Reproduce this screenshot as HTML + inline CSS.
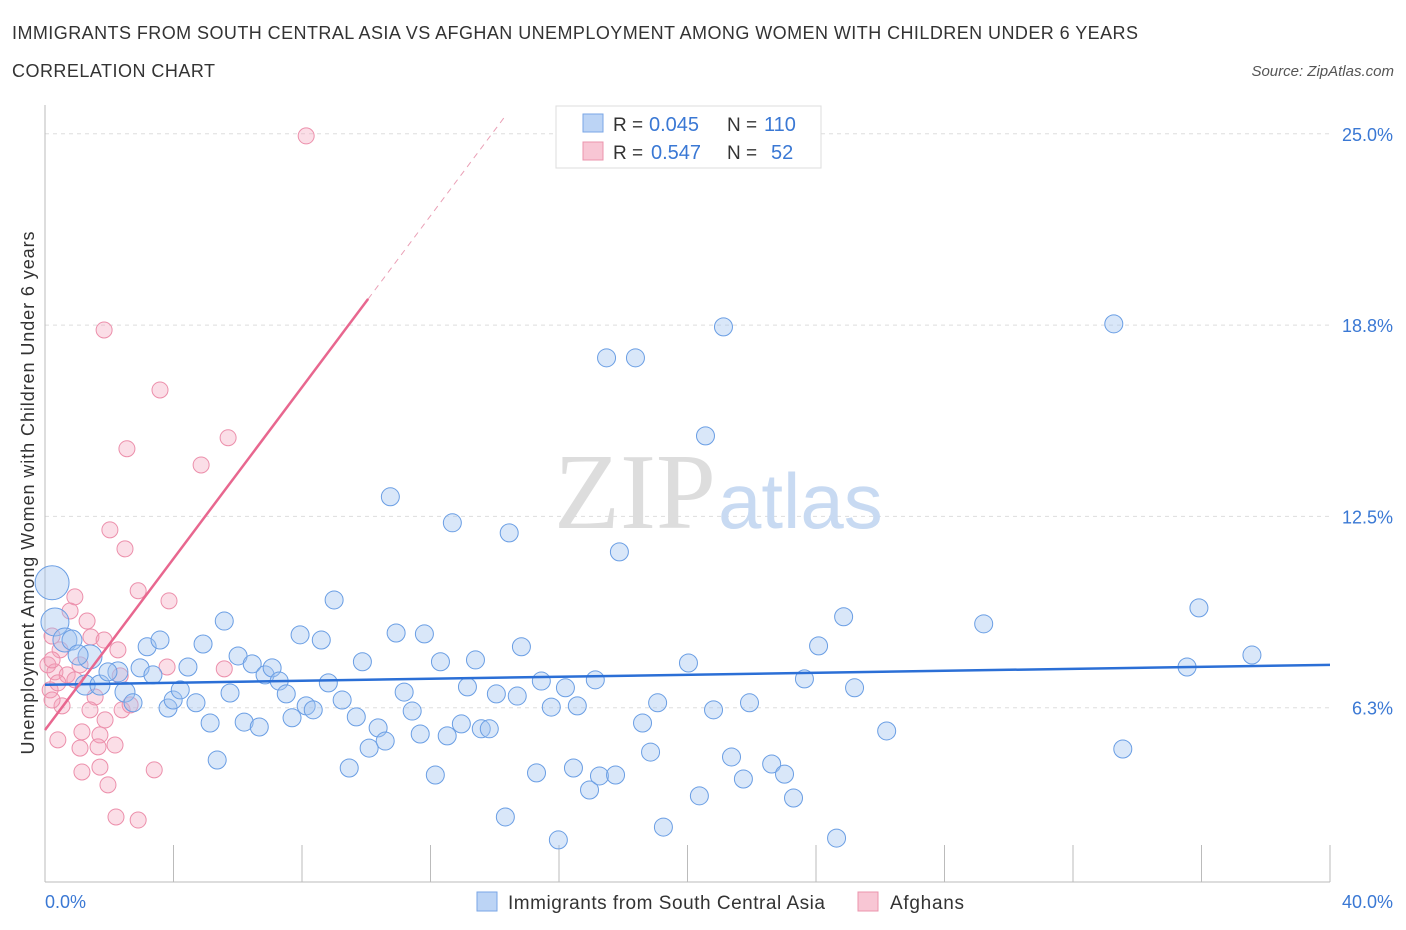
<!DOCTYPE html>
<html><head><meta charset="utf-8"><style>
body{margin:0;background:#fff;font-family:"Liberation Sans",sans-serif;}
svg{display:block}
</style></head><body>
<svg width="1406" height="930">
<text x="12" y="39" font-size="18" fill="#333" textLength="1126">IMMIGRANTS FROM SOUTH CENTRAL ASIA VS AFGHAN UNEMPLOYMENT AMONG WOMEN WITH CHILDREN UNDER 6 YEARS</text>
<text x="12" y="77" font-size="18" fill="#333" textLength="203">CORRELATION CHART</text>
<text x="1394" y="76" font-size="15" fill="#555" font-style="italic" text-anchor="end">Source: ZipAtlas.com</text>
<g id="grid"></g>
<text x="716" y="528" font-size="108" fill="#ddd" font-family="Liberation Serif,serif" text-anchor="end">ZIP</text>
<text x="718" y="528" font-size="78" fill="#c8daf2">atlas</text>
<g id="marks"></g>
<text x="-493" y="34" transform="rotate(-90)" font-size="18" fill="#333" text-anchor="middle" textLength="523">Unemployment Among Women with Children Under 6 years</text>
<text x="45" y="908" font-size="18" fill="#3a78d4">0.0%</text>
<text x="1393" y="908" font-size="18" fill="#3a78d4" text-anchor="end">40.0%</text>
<g>
<rect x="556" y="106" width="265" height="62" fill="#fff" stroke="#ddd"/>
<rect x="583" y="114" width="20" height="18" fill="#bcd4f5" stroke="#7aa6e6"/>
<rect x="583" y="142" width="20" height="18" fill="#f8c6d4" stroke="#eb94ad"/>
<text x="613" y="131" font-size="19" fill="#333">R =</text>
<text x="649" y="131" font-size="20" fill="#3a78d4">0.045</text>
<text x="727" y="131" font-size="19" fill="#333">N =</text>
<text x="764" y="131" font-size="20" fill="#3a78d4">110</text>
<text x="613" y="159" font-size="19" fill="#333">R =</text>
<text x="651" y="159" font-size="20" fill="#3a78d4">0.547</text>
<text x="727" y="159" font-size="19" fill="#333">N =</text>
<text x="771" y="159" font-size="20" fill="#3a78d4">52</text>
</g>
<g>
<rect x="477" y="892" width="20" height="19" fill="#bcd4f5" stroke="#7aa6e6"/>
<text x="508" y="909" font-size="19" fill="#333" textLength="317">Immigrants from South Central Asia</text>
<rect x="858" y="892" width="20" height="19" fill="#f8c6d4" stroke="#eb94ad"/>
<text x="890" y="909" font-size="19" fill="#333" textLength="74">Afghans</text>
</g>
</svg>
<script>
const blueX=[0.22,0.31,0.62,0.84,1.40,1.03,1.25,1.71,2.27,1.96,2.49,2.74,2.96,3.18,3.36,3.58,3.83,3.99,4.21,4.45,4.70,4.92,5.14,5.36,5.58,5.76,6.01,6.20,6.45,6.67,6.85,7.07,7.29,7.51,7.69,7.94,8.13,8.35,8.60,8.82,9.00,9.25,9.47,9.69,9.88,10.09,10.37,10.59,10.75,10.93,11.18,11.43,11.68,11.81,12.15,12.31,12.52,12.68,12.96,13.15,13.40,13.58,13.83,14.05,14.33,14.45,14.70,14.83,15.30,15.45,15.76,15.98,16.20,16.45,16.57,16.95,17.13,17.26,17.48,17.76,17.88,18.38,18.60,18.85,19.07,19.25,20.03,20.37,20.56,20.81,21.12,21.37,21.74,21.93,22.62,23.02,23.30,23.64,24.08,24.64,24.86,25.20,26.20,29.22,33.27,33.55,35.55,35.92,37.57];
const blueY=[10.33,9.05,8.46,8.46,7.91,7.97,6.99,6.99,7.42,7.42,6.76,6.41,7.55,8.24,7.32,8.46,6.24,6.50,6.83,7.58,6.41,8.33,5.75,4.54,9.08,6.73,7.94,5.78,7.68,5.62,7.32,7.55,7.12,6.70,5.92,8.63,6.31,6.18,8.46,7.06,9.77,6.50,4.28,5.95,7.75,4.93,5.59,5.16,13.14,8.69,6.76,6.14,5.39,8.66,4.05,7.75,5.33,12.29,5.72,6.93,7.81,5.56,5.56,6.70,2.68,11.96,6.63,8.24,4.12,7.12,6.27,1.93,6.90,4.28,6.31,3.56,7.16,4.02,17.68,4.05,11.34,17.68,5.75,4.80,6.41,2.35,7.71,3.37,15.13,6.18,18.69,4.64,3.92,6.41,4.41,4.08,3.30,7.19,8.27,1.99,9.22,6.90,5.49,8.99,18.79,4.90,7.58,9.51,7.97];
const blueR=[17,14,12,10,12,10,10,10,10,9,10,9,9,9,9,9,9,9,9,9,9,9,9,9,9,9,9,9,9,9,9,9,9,9,9,9,9,9,9,9,9,9,9,9,9,9,9,9,9,9,9,9,9,9,9,9,9,9,9,9,9,9,9,9,9,9,9,9,9,9,9,9,9,9,9,9,9,9,9,9,9,9,9,9,9,9,9,9,9,9,9,9,9,9,9,9,9,9,9,9,9,9,9,9,9,9,9,9,9];
const pinkX=[8.13,1.84,3.58,5.70,2.55,4.86,2.02,2.49,2.90,3.86,0.93,0.78,1.31,1.43,0.22,0.47,0.09,0.31,0.69,0.93,0.16,0.53,0.22,1.09,1.84,2.27,3.80,5.58,2.34,1.56,1.40,1.87,2.40,2.65,0.40,1.15,1.71,1.09,1.65,2.18,1.15,1.71,3.40,1.96,2.21,2.90,0.22,0.40];
const pinkY=[24.93,18.59,16.63,15.07,14.71,14.18,12.06,11.44,10.07,9.74,9.87,9.41,9.08,8.56,8.59,8.14,7.65,7.42,7.32,7.16,6.83,6.31,6.50,7.65,8.46,8.14,7.58,7.52,7.29,6.60,6.18,5.85,6.18,6.34,5.20,5.46,5.36,4.93,4.97,5.03,4.15,4.31,4.22,3.73,2.68,2.58,7.81,7.06];
const blueTrend=[7.0,7.65];
const pinkTrend=[5.52,1.40];
const yTicks=[6.25,12.5,18.75,25];
const yTickLabels=["6.3%","12.5%","18.8%","25.0%"];
const xTicks=[0,4,8,12,16,20,24,28,32,36,40];
const NS="http://www.w3.org/2000/svg";
const X=v=>45+v*32.125, Y=v=>899-v*30.61;
function mk(parent,tag,attrs){const e=document.createElementNS(NS,tag);for(const k in attrs)e.setAttribute(k,attrs[k]);document.getElementById(parent).appendChild(e);return e;}
yTicks.forEach((t,i)=>{
 const l=mk('grid','line',{x1:45,x2:1330,y1:Y(t),y2:Y(t),stroke:'#ddd','stroke-dasharray':'4,4'});
 
 
 const tx=mk('grid','text',{x:1393,y:Y(t)+7,'font-size':18,fill:'#3a78d4','text-anchor':'end'});
 tx.textContent=yTickLabels[i];
 
 
});
const ax=mk('grid','line',{x1:45,x2:1330,y1:882,y2:882,stroke:'#bbb'});


const ay=mk('grid','line',{x1:45,x2:45,y1:105,y2:882,stroke:'#bbb'});


xTicks.forEach(t=>{
 const l=mk('grid','line',{x1:X(t),x2:X(t),y1:845,y2:882,stroke:'#bbb'});
 
 
});
pinkX.forEach((v,i)=>{
 const c=mk('marks','circle',{cx:X(v),cy:Y(pinkY[i]),r:8,fill:'rgba(244,160,185,0.35)',stroke:'#ec8fab','stroke-width':1});
 
 
});
blueX.forEach((v,i)=>{
 const c=mk('marks','circle',{cx:X(v),cy:Y(blueY[i]),r:blueR[i],fill:'rgba(160,195,240,0.4)',stroke:'#6a9ee4','stroke-width':1});
 
 
});
const bt=mk('marks','line',{x1:X(0),x2:X(40),y1:Y(blueTrend[0]),y2:Y(blueTrend[1]),stroke:'#2b6fd6','stroke-width':2.5});


const xe=10.06, xd=(25.6-pinkTrend[0])/pinkTrend[1];
const pt=mk('marks','line',{x1:X(0),x2:X(xe),y1:Y(pinkTrend[0]),y2:Y(pinkTrend[0]+pinkTrend[1]*xe),stroke:'#e8678f','stroke-width':2.5});


const pd=mk('marks','line',{x1:X(xe),x2:X(xd),y1:Y(pinkTrend[0]+pinkTrend[1]*xe),y2:Y(25.6),stroke:'#eaa0b6','stroke-width':1,'stroke-dasharray':'6,5'});


</script>
</body></html>
